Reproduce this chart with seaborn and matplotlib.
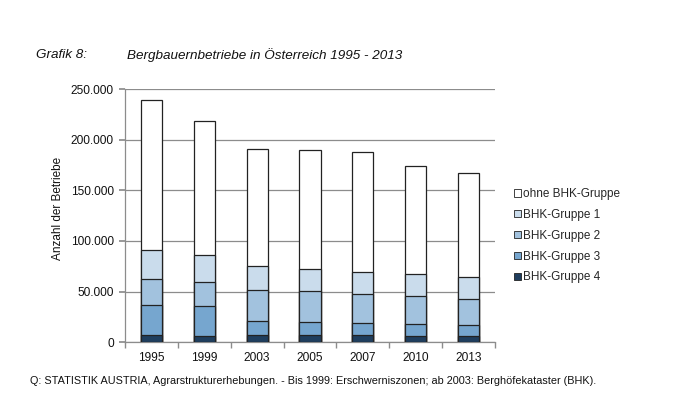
import matplotlib
matplotlib.use("Agg")
import matplotlib.pyplot as plt
import matplotlib.ticker as mticker
from matplotlib.patches import Patch
import seaborn as sns
import pandas as pd
import numpy as np

years = ["1995", "1999", "2003", "2005", "2007", "2010", "2013"]
bhk4 = [6900, 6500, 7200, 7200, 6900, 6200, 6500]
bhk3 = [30200, 29000, 13800, 12800, 12500, 12200, 10900]
bhk2 = [25100, 23700, 30300, 30300, 28600, 27300, 25600]
bhk1 = [28600, 26700, 23700, 22100, 21700, 21400, 21200]
ohne = [148700, 132300, 115800, 117400, 117900, 106600, 102600]

series_names = ["BHK-Gruppe 4", "BHK-Gruppe 3", "BHK-Gruppe 2", "BHK-Gruppe 1", "ohne BHK-Gruppe"]
series_vals = [bhk4, bhk3, bhk2, bhk1, ohne]
colors = ["#1f3e5e", "#76a6cf", "#a2c2de", "#cadcec", "#ffffff"]

sns.set_theme(style="white")
plt.rcParams["font.family"] = ["Liberation Sans", "DejaVu Sans"]

fig = plt.figure(figsize=(6.92, 3.97), dpi=100)
ax = fig.add_axes([125/692, 1-342.3/397, 370/692, (342.3-89)/397])

cum = np.cumsum(np.array(series_vals), axis=0)
# draw from tallest (total) down to smallest so segments overlay
for i in range(len(series_names)-1, -1, -1):
    df = pd.DataFrame({"Jahr": years, "Wert": cum[i]})
    sns.barplot(data=df, x="Jahr", y="Wert", ax=ax, color=colors[i],
                width=0.4, edgecolor="#222222", linewidth=0.9,
                saturation=1, errorbar=None, zorder=3)

ax.set_ylim(0, 250000)
ax.set_xlim(-0.5, len(years)-0.5)
ax.yaxis.set_major_locator(mticker.MultipleLocator(50000))
ax.yaxis.set_major_formatter(mticker.FuncFormatter(lambda v, p: f"{int(v):,}".replace(",", ".")))
ax.grid(axis="y", color="#8c8c8c", linewidth=0.9, zorder=0)
ax.set_axisbelow(True)
for s in ["top", "right"]:
    ax.spines[s].set_visible(False)
for s in ["left", "bottom"]:
    ax.spines[s].set_color("#8c8c8c")
    ax.spines[s].set_linewidth(0.9)
ax.set_xlabel("")
ax.set_ylabel("")
ax.tick_params(axis="y", direction="out", length=4, color="#8c8c8c", labelsize=8.6, pad=4, left=True, labelcolor="#111111")
ax.tick_params(axis="x", which="major", length=0, labelsize=8.6, pad=7, labelcolor="#111111")
ax.set_xticks(np.arange(-0.5, len(years)), minor=True)
ax.tick_params(axis="x", which="minor", direction="out", length=4, color="#8c8c8c", bottom=True)

fig.text(58/692, 1-208/397, "Anzahl der Betriebe", fontsize=8.5, rotation=90,
         ha="center", va="center", color="#111111")

handles = [Patch(facecolor=colors[i], edgecolor="#222222", linewidth=0.6, label=series_names[i])
           for i in range(len(series_names)-1, -1, -1)]
fig.legend(handles=handles, loc="upper left", bbox_to_anchor=(514/692, 1-188/397),
           frameon=False, fontsize=8.5, handlelength=0.6, handleheight=0.6,
           handletextpad=0.2, labelspacing=0.75, borderaxespad=0, borderpad=0)

fig.text(36/692, 1-55/397, "Grafik 8:", fontsize=9.7, style="italic", va="center", color="#111111")
fig.text(127/692, 1-55/397, "Bergbauernbetriebe in Österreich 1995 - 2013", fontsize=9.7,
         style="italic", va="center", color="#111111")
fig.text(30/692, 1-381/397,
         "Q: STATISTIK AUSTRIA, Agrarstrukturerhebungen. - Bis 1999: Erschwerniszonen; ab 2003: Berghöfekataster (BHK).",
         fontsize=7.8, va="center", color="#111111")

fig.savefig("out.png", dpi=100, facecolor="white")
